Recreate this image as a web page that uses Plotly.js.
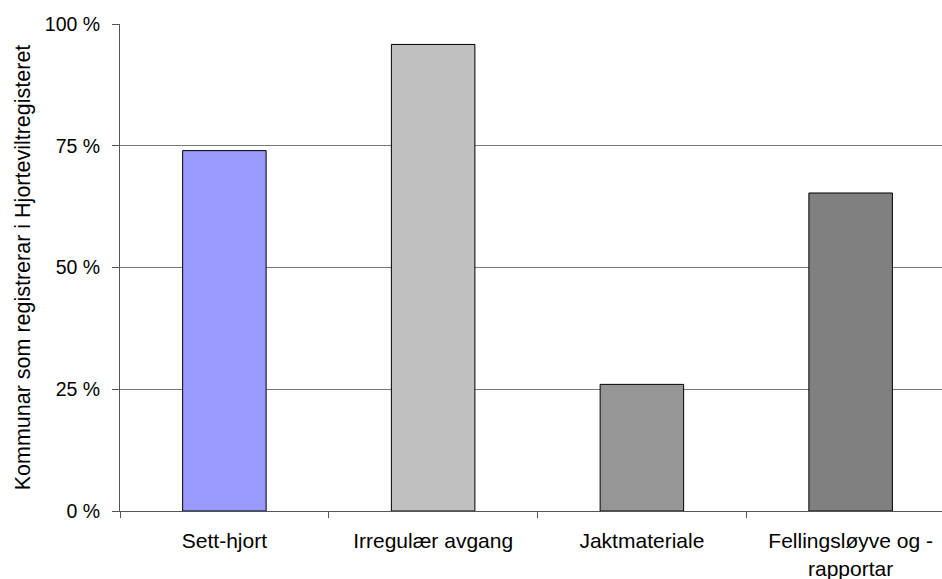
<!DOCTYPE html>
<html>
<head>
<meta charset="utf-8">
<script src="https://cdn.plot.ly/plotly-3.0.1.min.js"></script>
<style>
html, body { margin: 0; padding: 0; overflow: hidden; background: #fff; }
#chart { width: 958px; height: 579px; }
</style>
</head>
<body>
<div id="chart"></div>
<script>
const categories = ["Sett-hjort", "Irregulær avgang", "Jaktmateriale", "Fellingsløyve og -<br>rapportar"];
const values = [74.0, 95.8, 26.0, 65.3];
const barColors = ["#9999FF", "#C0C0C0", "#969696", "#808080"];
const yTickValues = [0, 25, 50, 75, 100];
const yTickLabels = ["0 %", "25 %", "50 %", "75 %", "100 %"];
const yTitle = "Kommunar som registrerar i Hjorteviltregisteret";

const trace = {
  type: "bar",
  x: categories,
  y: values,
  marker: { color: barColors, line: { color: "#000000", width: 1 } },
  width: 0.4,
  hoverinfo: "none"
};

const layout = {
  width: 958,
  height: 579,
  margin: { l: 120, r: 3, t: 24, b: 68, pad: 0 },
  paper_bgcolor: "#ffffff",
  plot_bgcolor: "#ffffff",
  showlegend: false,
  font: { family: "Liberation Sans, Arial, sans-serif", color: "#000000" },
  xaxis: {
    type: "category",
    tickson: "boundaries",
    ticks: "outside",
    ticklen: 6,
    tickcolor: "#555555",
    ticklabelstandoff: 11,
    tickfont: { size: 21, color: "#000000" },
    showgrid: false,
    showline: true,
    linecolor: "#555555",
    linewidth: 1,
    zeroline: false,
    fixedrange: true
  },
  yaxis: {
    range: [0, 100],
    tickvals: yTickValues,
    ticktext: yTickLabels,
    ticks: "outside",
    ticklen: 7,
    tickcolor: "#555555",
    ticklabelstandoff: 8,
    tickfont: { size: 19.5, color: "#000000" },
    showgrid: true,
    gridcolor: "#777777",
    gridwidth: 1,
    showline: true,
    linecolor: "#555555",
    linewidth: 1,
    zeroline: false,
    fixedrange: true,
    title: { text: yTitle, font: { size: 21.5, color: "#000000" }, standoff: 8 }
  },
  bargap: 0.6
};

Plotly.newPlot("chart", [trace], layout, { displayModeBar: false, staticPlot: true });
</script>
</body>
</html>
